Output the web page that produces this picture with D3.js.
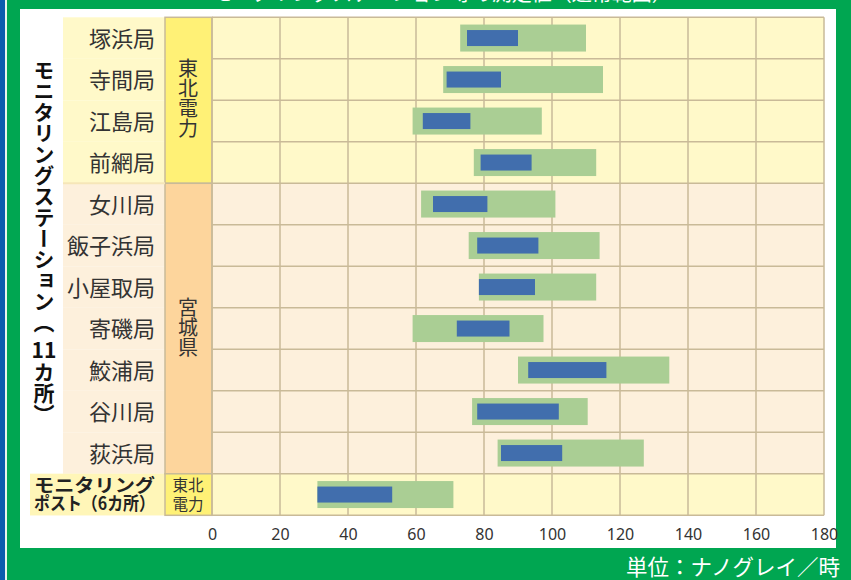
<!DOCTYPE html>
<html lang="ja">
<head>
<meta charset="UTF-8">
<title>モニタリングステーション 測定結果</title>
<style>
    body { margin: 0; background: #00a651; }
    svg { display: block; }
    text { font-family: "Noto Sans CJK JP", "Noto Sans", sans-serif; }
</style>
</head>
<body>
<svg id="chart" width="851" height="580"></svg>
<script src="https://d3js.org/d3.v7.min.js"></script>
<script>
    // 局名
    const stations = ["塚浜局", "寺間局", "江島局", "前網局", "女川局", "飯子浜局", "小屋取局", "寄磯局", "鮫浦局", "谷川局", "荻浜局", "ポスト"];
    // 通常の変動幅（緑）
    const rangeMin = [73, 68, 59, 77, 61.5, 75.5, 78.5, 59, 90, 76.5, 84, 31];
    const rangeMax = [110, 115, 97, 113, 101, 114, 113, 97.5, 134.5, 110.5, 127, 71];
    // 今回の測定値（青）
    const valueMin = [75, 69, 62, 79, 65, 78, 78.5, 72, 93, 78, 85, 31];
    const valueMax = [90, 85, 76, 94, 81, 96, 95, 87.5, 116, 102, 103, 53];
    // 設置者グループ
    const groupNames = ["東北電力", "宮城県", "東北電力"];
    const groupFirst = [0, 4, 11];
    const groupLast = [3, 10, 11];
    const ticks = [0, 20, 40, 60, 80, 100, 120, 140, 160, 180];

    const svg = d3.select("#chart");
    const W = 851, H = 580;
    const grid = "#c9ba98";

    // 外枠
    svg.append("rect").attr("width", W).attr("height", H).attr("fill", "#00a651");
    svg.append("rect").attr("x", 0).attr("width", 5).attr("height", H).attr("fill", "#0a5cae");
    svg.append("rect").attr("x", 5).attr("width", 2).attr("height", H).attr("fill", "#e8f4ec");
    svg.append("rect").attr("x", 20).attr("y", 9).attr("width", 816).attr("height", 539).attr("fill", "#fff");

    // 見切れたタイトル（上端）
    svg.append("text").attr("x", 442).attr("y", 1).attr("text-anchor", "middle")
        .attr("font-size", 20).attr("fill", "#fff")
        .text("モニタリングステーション等の測定値（通常範囲）");

    const x = d3.scaleLinear().domain([0, 180]).range([212, 824]);
    const y = d3.scaleBand().domain(d3.range(stations.length)).range([17.3, 515.3]);
    const bw = y.bandwidth();

    const rowFill = i => (i >= 4 && i <= 10) ? "#fdf0dc" : "#fff9c9";
    const catFill = i => (i >= 4 && i <= 10) ? "#fdd59c" : "#fff176";

    // 行の背景（ラベル列＋プロット）
    svg.append("g").selectAll("rect").data(d3.range(stations.length)).join("rect")
        .attr("x", d => d === 11 ? 30 : 63)
        .attr("y", d => y(d))
        .attr("width", d => x(180) - (d === 11 ? 30 : 63))
        .attr("height", bw)
        .attr("fill", rowFill);
    svg.append("rect").attr("x", 30).attr("y", y(11)).attr("width", 135).attr("height", bw).attr("fill", "#fff6b8");

    // グループ列
    const groups = groupNames.map((name, i) => ({ name, a: groupFirst[i], b: groupLast[i] }));
    svg.append("g").selectAll("rect").data(groups).join("rect")
        .attr("x", 165).attr("width", x(0) - 165)
        .attr("y", d => y(d.a)).attr("height", d => y(d.b) + bw - y(d.a))
        .attr("fill", d => catFill(d.a))
        .attr("stroke", grid).attr("stroke-width", 1.5);

    // グリッド線
    const gg = svg.append("g").attr("stroke", grid).attr("stroke-width", 1.5);
    gg.selectAll("line.v").data(ticks).join("line").attr("class", "v")
        .attr("x1", d => x(d)).attr("x2", d => x(d))
        .attr("y1", y(0)).attr("y2", y(11) + bw);
    gg.selectAll("line.h").data(d3.range(stations.length + 1)).join("line").attr("class", "h")
        .attr("x1", x(0)).attr("x2", x(180))
        .attr("y1", d => d < stations.length ? y(d) : y(11) + bw)
        .attr("y2", d => d < stations.length ? y(d) : y(11) + bw);
    svg.append("line").attr("x1", 63).attr("x2", 165).attr("y1", y(4)).attr("y2", y(4))
        .attr("stroke", "#f6e6b8").attr("stroke-width", 2);

    // バー
    svg.append("g").selectAll("rect").data(d3.range(stations.length)).join("rect")
        .attr("x", i => x(rangeMin[i])).attr("width", i => x(rangeMax[i]) - x(rangeMin[i]))
        .attr("y", i => y(i) + (bw - 27) / 2).attr("height", 27)
        .attr("fill", "#aace94");
    svg.append("g").selectAll("rect").data(d3.range(stations.length)).join("rect")
        .attr("x", i => x(valueMin[i])).attr("width", i => x(valueMax[i]) - x(valueMin[i]))
        .attr("y", i => y(i) + (bw - 16) / 2).attr("height", 16)
        .attr("fill", "#416ead");

    // 局名ラベル
    svg.append("g").selectAll("text").data(d3.range(11)).join("text")
        .attr("x", 155).attr("y", i => y(i) + bw / 2)
        .attr("dy", "0.4em").attr("text-anchor", "end")
        .attr("font-size", 22).attr("fill", "#333")
        .text(i => stations[i]);

    // ポスト行ラベル
    const postLines = ["モニタリング", "ポスト（6カ所）"];
    svg.append("g").selectAll("text").data(postLines).join("text")
        .attr("x", 34).attr("y", (d, i) => y(11) + 18 + i * 18.5)
        .attr("font-size", 18).attr("font-weight", "bold").attr("fill", "#222")
        .attr("textLength", 121).attr("lengthAdjust", "spacingAndGlyphs")
        .text(d => d);

    // グループ名（縦書き）
    svg.append("g").selectAll("text").data(groups.slice(0, 2)).join("text")
        .attr("x", 188)
        .attr("y", d => (y(d.a) + y(d.b) + bw) / 2 - d.name.length * 10.5)
        .attr("font-size", 20).attr("fill", "#333")
        .style("writing-mode", "vertical-rl")
        .text(d => d.name);
    svg.append("g").selectAll("text").data(["東北", "電力"]).join("text")
        .attr("x", 188).attr("y", (d, i) => y(11) + 17 + i * 19)
        .attr("text-anchor", "middle").attr("font-size", 15.5).attr("fill", "#333")
        .text(d => d);

    // 左側の縦タイトル
    const vt = svg.append("g").attr("font-weight", "bold").attr("font-size", 21).attr("fill", "#111");
    vt.append("text").attr("x", 44).attr("y", 60).style("writing-mode", "vertical-rl")
        .text("モニタリングステーション（");
    vt.append("text").attr("x", 44).attr("y", 358).attr("text-anchor", "middle").text("11");
    vt.append("text").attr("x", 44).attr("y", 362).style("writing-mode", "vertical-rl")
        .text("カ所）");

    // x軸
    const axis = svg.append("g").attr("transform", `translate(0,${y(11) + bw})`)
        .call(d3.axisBottom(x).tickValues(ticks).tickSize(0).tickPadding(13));
    axis.select(".domain").remove();
    axis.selectAll("text").attr("font-size", 16).attr("fill", "#333")
        .style("font-family", "'Noto Sans', sans-serif");

    // 単位
    svg.append("text").attr("x", 840).attr("y", 575).attr("text-anchor", "end")
        .attr("font-size", 21.5).attr("fill", "#fff").text("単位：ナノグレイ／時");
</script>
</body>
</html>
